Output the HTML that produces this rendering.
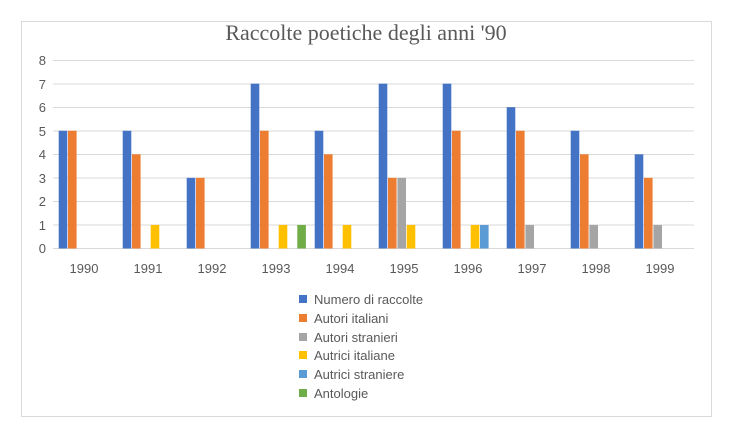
<!DOCTYPE html>
<html><head><style>body{margin:0;background:#fff}svg{display:block}</style></head><body>
<svg width="731" height="429" xmlns="http://www.w3.org/2000/svg" font-family="Liberation Sans, sans-serif">
<rect x="21.5" y="21.5" width="690" height="395" fill="#fff" stroke="#d9d9d9"/>
<text x="366" y="40" text-anchor="middle" font-family="Liberation Serif, serif" font-size="22" fill="#595959">Raccolte poetiche degli anni '90</text>
<g stroke="#d9d9d9" stroke-width="1">
<line x1="53" x2="694" y1="60.5" y2="60.5"/><line x1="53" x2="694" y1="84" y2="84"/><line x1="53" x2="694" y1="107.5" y2="107.5"/><line x1="53" x2="694" y1="131" y2="131"/><line x1="53" x2="694" y1="154.5" y2="154.5"/><line x1="53" x2="694" y1="178" y2="178"/><line x1="53" x2="694" y1="201.5" y2="201.5"/><line x1="53" x2="694" y1="225" y2="225"/><line x1="53" x2="694" y1="248.5" y2="248.5"/>
</g>
<g font-size="13" fill="#595959" text-anchor="end">
<text x="46" y="65">8</text><text x="46" y="89">7</text><text x="46" y="112">6</text><text x="46" y="136">5</text><text x="46" y="159">4</text><text x="46" y="183">3</text><text x="46" y="206">2</text><text x="46" y="230">1</text><text x="46" y="253">0</text>
</g>
<g font-size="13" fill="#595959" text-anchor="middle">
<text x="84" y="273">1990</text><text x="148" y="273">1991</text><text x="212" y="273">1992</text><text x="276" y="273">1993</text><text x="340" y="273">1994</text><text x="404" y="273">1995</text><text x="468" y="273">1996</text><text x="532" y="273">1997</text><text x="596" y="273">1998</text><text x="660" y="273">1999</text>
</g>
<g fill="#4472c4">
<rect x="58.7" y="130.75" width="8.6" height="117.75"/>
<rect x="122.7" y="130.75" width="8.6" height="117.75"/>
<rect x="186.7" y="177.85" width="8.6" height="70.65"/>
<rect x="250.7" y="83.65" width="8.6" height="164.85"/>
<rect x="314.7" y="130.75" width="8.6" height="117.75"/>
<rect x="378.7" y="83.65" width="8.6" height="164.85"/>
<rect x="442.7" y="83.65" width="8.6" height="164.85"/>
<rect x="506.7" y="107.2" width="8.6" height="141.3"/>
<rect x="570.7" y="130.75" width="8.6" height="117.75"/>
<rect x="634.7" y="154.3" width="8.6" height="94.2"/>
</g>
<g fill="#ed7d31">
<rect x="68" y="130.75" width="8.6" height="117.75"/>
<rect x="132" y="154.3" width="8.6" height="94.2"/>
<rect x="196" y="177.85" width="8.6" height="70.65"/>
<rect x="260" y="130.75" width="8.6" height="117.75"/>
<rect x="324" y="154.3" width="8.6" height="94.2"/>
<rect x="388" y="177.85" width="8.6" height="70.65"/>
<rect x="452" y="130.75" width="8.6" height="117.75"/>
<rect x="516" y="130.75" width="8.6" height="117.75"/>
<rect x="580" y="154.3" width="8.6" height="94.2"/>
<rect x="644" y="177.85" width="8.6" height="70.65"/>
</g>
<g fill="#a5a5a5">
<rect x="397.4" y="177.85" width="8.6" height="70.65"/>
<rect x="525.4" y="224.95" width="8.6" height="23.55"/>
<rect x="589.4" y="224.95" width="8.6" height="23.55"/>
<rect x="653.4" y="224.95" width="8.6" height="23.55"/>
</g>
<g fill="#ffc000">
<rect x="150.7" y="224.95" width="8.6" height="23.55"/>
<rect x="278.7" y="224.95" width="8.6" height="23.55"/>
<rect x="342.7" y="224.95" width="8.6" height="23.55"/>
<rect x="406.7" y="224.95" width="8.6" height="23.55"/>
<rect x="470.7" y="224.95" width="8.6" height="23.55"/>
</g>
<rect x="480" y="224.95" width="8.6" height="23.55" fill="#5b9bd5"/>
<rect x="297.3" y="224.95" width="8.6" height="23.55" fill="#70ad47"/>
<g font-size="13" fill="#595959">
<rect x="299" y="295" width="8" height="8" fill="#4472c4"/><text x="314" y="304">Numero di raccolte</text>
<rect x="299" y="314" width="8" height="8" fill="#ed7d31"/><text x="314" y="323">Autori italiani</text>
<rect x="299" y="333" width="8" height="8" fill="#a5a5a5"/><text x="314" y="342">Autori stranieri</text>
<rect x="299" y="351" width="8" height="8" fill="#ffc000"/><text x="314" y="360">Autrici italiane</text>
<rect x="299" y="370" width="8" height="8" fill="#5b9bd5"/><text x="314" y="379">Autrici straniere</text>
<rect x="299" y="389" width="8" height="8" fill="#70ad47"/><text x="314" y="398">Antologie</text>
</g>
</svg>
</body></html>
